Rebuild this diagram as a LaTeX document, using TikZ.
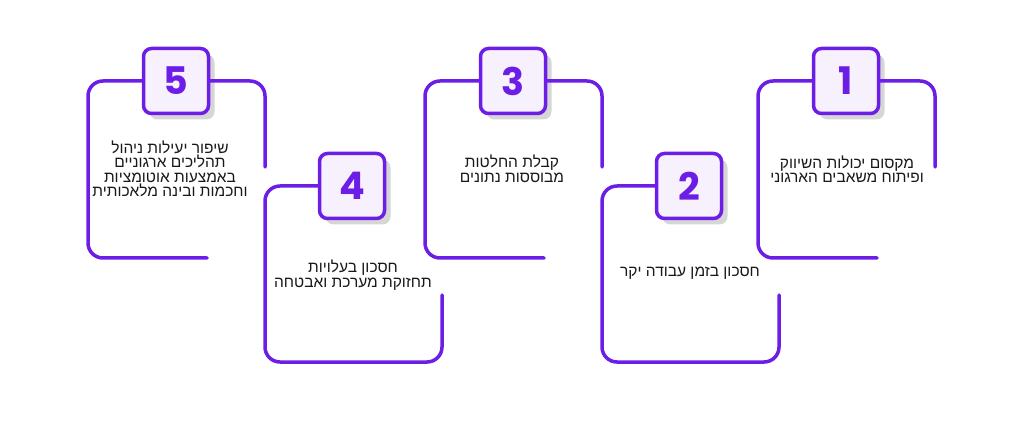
\documentclass[tikz,border=0pt]{standalone}
\usepackage{fontspec}
\usepackage{tikz}
\usetikzlibrary{positioning,shadows}
\TeXXeTstate=1
\newfontfamily\hebrewFont[Script=Hebrew]{Liberation Sans}
\newfontfamily\digitFont{Poppins}
\definecolor{frameColor}{RGB}{108,30,230}
\definecolor{badgeColor}{RGB}{246,241,253}
\tikzstyle{canvas} = [x = 1pt, y = -1pt]
\tikzstyle{frameLine} = [color=frameColor, line width=3.5pt, rounded corners=15pt, line cap=round]
\tikzstyle{badgeStyle} = [draw=frameColor, fill=badgeColor, line width=3.5pt, rounded corners=8pt, minimum size=65pt, inner sep=0pt, text=frameColor, font=\digitFont\fontsize{38}{38}\selectfont\bfseries, drop shadow={shadow xshift=6pt, shadow yshift=-6pt, fill=black!16, opacity=1}]
\tikzstyle{stepText} = [align=center, text=black!90, font=\hebrewFont\fontsize{15.5}{14.5}\selectfont]
\newcommand{\hebLine}[1]{\beginR #1\endR}
\newcommand{\topStep}[5]{
  \node [badgeStyle] (#1) at (#2 + 88, 81) {#3};
  \draw [frameLine] (#1.west) -- (#2, 81) -- (#2, 258) -- (#2 + 119, 258);
  \draw [frameLine] (#1.east) -- (#2 + 177, 81) -- (#2 + 177, 167);
  \node [stepText] (#1Text) at (#2 + #4, 169) {#5};
}
\newcommand{\bottomStep}[5]{
  \node [badgeStyle] (#1) at (#2 + 87, 186) {#3};
  \draw [frameLine] (#1.west) -- (#2, 186) -- (#2, 362) -- (#2 + 177, 362) -- (#2 + 177, 295);
  \node [stepText] (#1Text) at (#2 + 88, #4) {#5};
}
\begin{document}
\begin{tikzpicture}[canvas]
  \useasboundingbox (0,0) rectangle (1024,427);
  \topStep{stepOne}{758}{1}{89}{\hebLine{מקסום יכולות השיווק}\\\hebLine{ופיתוח משאבים הארגוני}}
  \bottomStep{stepTwo}{602}{2}{273}{\hebLine{חסכון בזמן עבודה יקר}}
  \topStep{stepThree}{425}{3}{87}{\hebLine{קבלת החלטות}\\\hebLine{מבוססות נתונים}}
  \bottomStep{stepFour}{265}{4}{275}{\hebLine{חסכון בעלויות}\\\hebLine{תחזוקת מערכת ואבטחה}}
  \topStep{stepFive}{88}{5}{82}{\hebLine{שיפור יעילות ניהול}\\\hebLine{תהליכים ארגוניים}\\\hebLine{באמצעות אוטומציות}\\\hebLine{וחכמות ובינה מלאכותית}}
\end{tikzpicture}
\end{document}
